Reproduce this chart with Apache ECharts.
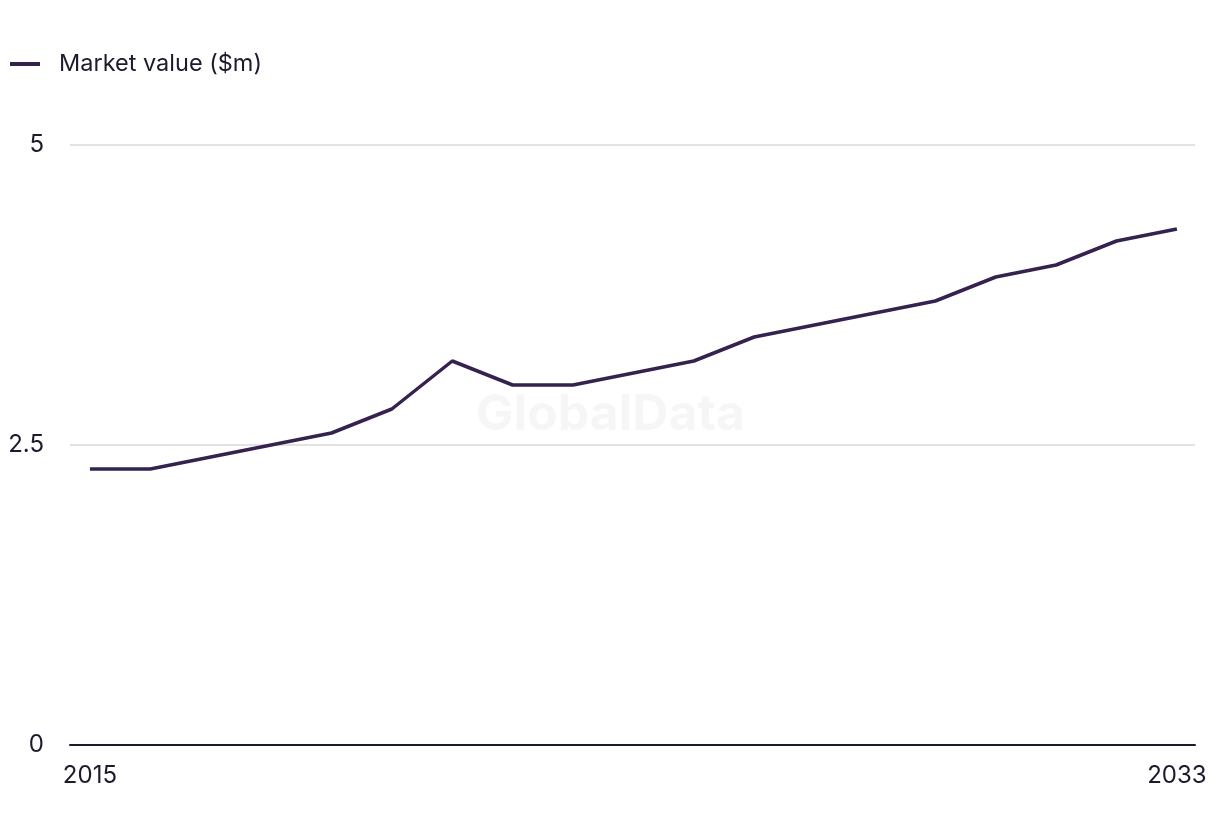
<!DOCTYPE html>
<html>
<head>
<meta charset="utf-8">
<script src="https://cdn.jsdelivr.net/npm/echarts@6/dist/echarts.min.js"></script>
<style>
html,body{margin:0;padding:0;background:#fff;}
#chart{width:1220px;height:836px;}
</style>
</head>
<body>
<div id="chart"></div>
<script>
const years = [2015,2016,2017,2018,2019,2020,2021,2022,2023,2024,2025,2026,2027,2028,2029,2030,2031,2032,2033];
const marketValue = [2.3,2.3,2.4,2.5,2.6,2.8,3.2,3.0,3.0,3.1,3.2,3.4,3.5,3.6,3.7,3.9,4.0,4.2,4.3];
const xTickLabels = [2015, 2033];
const yTicks = [0, 2.5, 5];
const seriesName = 'Market value ($m)';

const textColor = '#1c1b2e';
const lineColor = '#35224f';
const fontFamily = 'Inter, "Open Sans", sans-serif';

const chart = echarts.init(document.getElementById('chart'));
chart.setOption({
  animation: false,
  backgroundColor: '#ffffff',
  graphic: [{
    type: 'text',
    left: 476, top: 390,
    style: { text: 'GlobalData', font: 'bold 50px ' + fontFamily, fill: 'rgba(0,0,0,0.035)' },
    z: 0
  }],
  legend: {
    left: 5, top: 47,
    icon: 'rect',
    itemWidth: 30, itemHeight: 4,
    textStyle: { color: textColor, fontSize: 23.5, fontFamily: fontFamily, padding: [0,0,0,14] },
    data: [seriesName]
  },
  grid: { left: 70, right: 25, top: 145, bottom: 91, containLabel: false },
  xAxis: {
    type: 'value',
    min: 2014.67, max: 2033.3,
    splitLine: { show: false },
    axisLine: { show: true, onZero: false, lineStyle: { color: textColor, width: 2 } },
    axisTick: { show: false },
    axisLabel: {
      customValues: xTickLabels,
      color: textColor, fontSize: 24, fontFamily: fontFamily, margin: 19,
      formatter: v => String(v)
    }
  },
  yAxis: {
    type: 'value',
    min: 0, max: 5, interval: 2.5,
    axisLine: { show: false },
    axisTick: { show: false },
    splitLine: { lineStyle: { color: '#d9d9d9', width: 1.5 } },
    axisLabel: {
      color: textColor, fontSize: 24, fontFamily: fontFamily, margin: 26,
      formatter: v => yTicks.indexOf(v) >= 0 ? String(v) : ''
    }
  },
  series: [{
    name: seriesName,
    type: 'line',
    data: years.map((y, i) => [y, marketValue[i]]),
    symbol: 'none',
    lineStyle: { color: lineColor, width: 3.5 },
    itemStyle: { color: lineColor },
    z: 3
  }]
});
</script>
</body>
</html>
